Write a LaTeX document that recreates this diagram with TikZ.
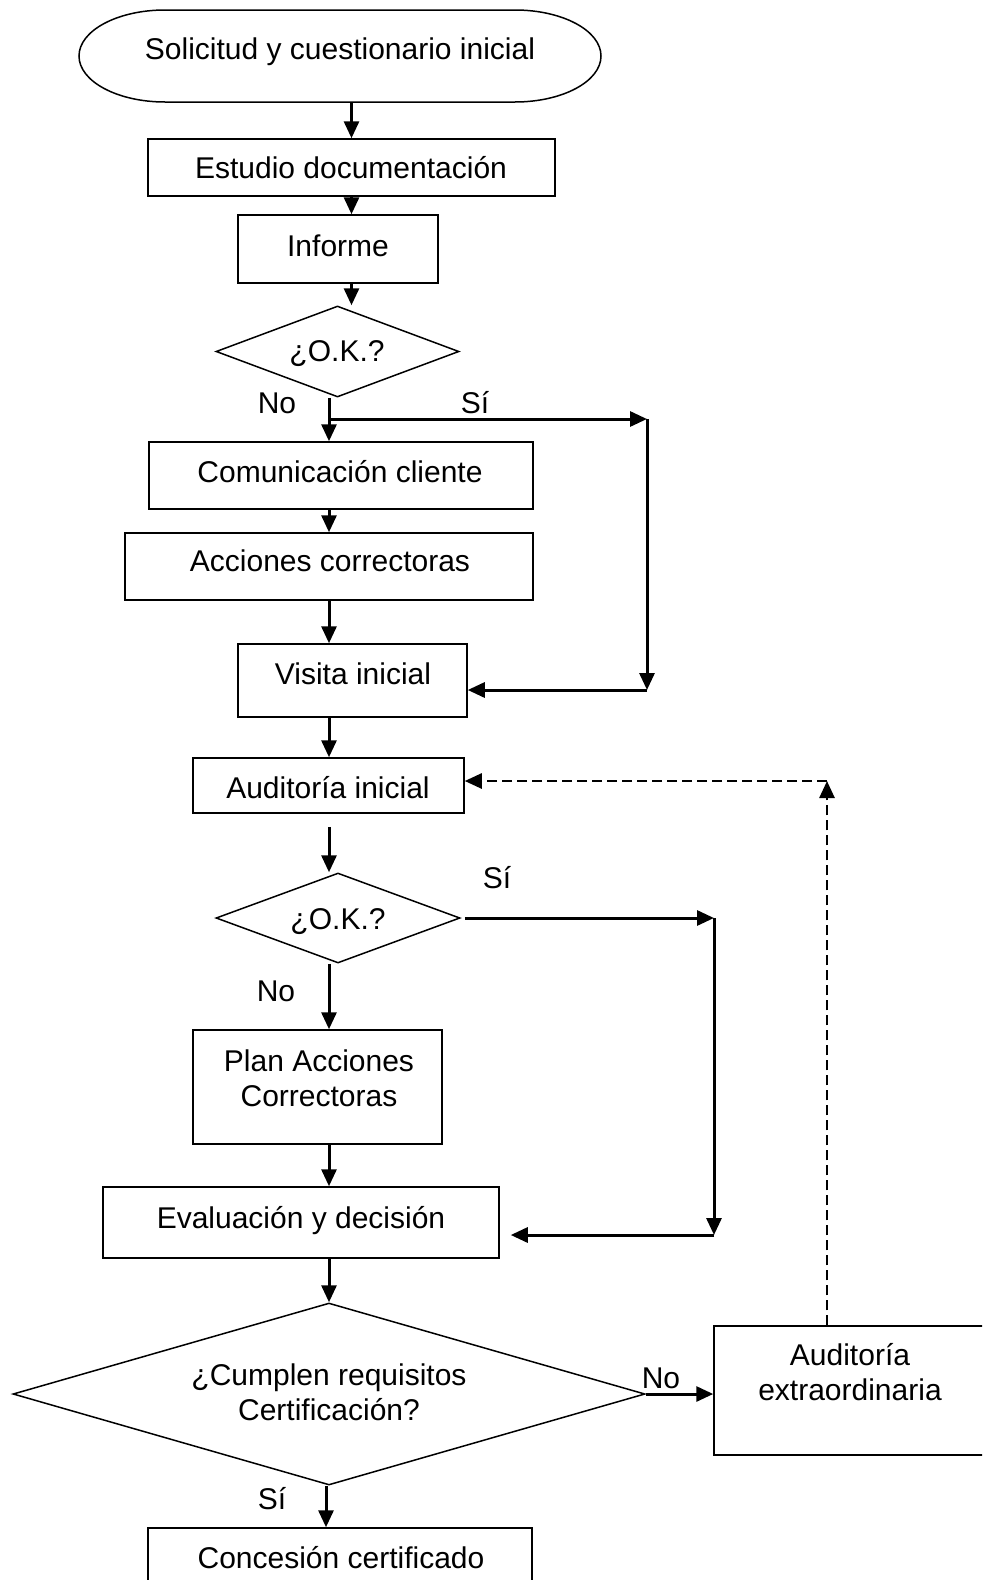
\documentclass[tikz,border=0pt]{standalone}
\usepackage{fontspec}
\setmainfont{Liberation Sans}
\usetikzlibrary{arrows.meta,shapes.geometric,fit,calc}
\begin{document}
\begin{tikzpicture}[x=0.5pt,y=-0.5pt,
  every node/.style={font=\fontsize{15pt}{17.5pt}\selectfont},
  box/.style={draw,line width=0.75pt,inner sep=0pt},
  ghost/.style={inner sep=0pt},
  dia/.style={draw,diamond,line width=0.75pt,inner sep=0pt,aspect=2.7},
  txt/.style={inner sep=0pt,align=center},
  arr/.style={line width=1.5pt,-{Triangle[length=8.5pt,width=7.5pt]}},
  darr/.style={line width=1.3pt,dash pattern=on 5pt off 2.5pt,-{Triangle[length=8.5pt,width=7.5pt]}}
]
\useasboundingbox (0,0) rectangle (982,1580);
\clip (0,0) rectangle (982,1580);
\fill[white] (0,0) rectangle (982,1580);

% terminator
\node[ghost,fit={(79,10) (601,102)}] (term) {};
\draw[line width=0.75pt] (165,10) -- (515,10)
  arc[start angle=-90,end angle=90,x radius=86,y radius=46] -- (165,102)
  arc[start angle=90,end angle=270,x radius=86,y radius=46] -- cycle;
\node[txt] (termt) at (340,52) {Solicitud y cuestionario inicial};

% boxes
\node[box,fit={(148,139) (555,196)}] (estudio) {};
\node[txt] (estudiot) at (351,168) {Estudio documentación};
\node[box,fit={(238,215) (438,283)}] (informe) {};
\node[txt] (informet) at (338,246) {Informe};
\node[dia,minimum width=121.5pt,minimum height=45.5pt] (ok1) at (337.5,351.5) {};
\node[txt] (ok1t) at (337,354) {¿O.K.?};
\node[box,fit={(149,442) (533,509)}] (com) {};
\node[txt] (comt) at (340,472) {Comunicación cliente};
\node[box,fit={(125,533) (533,600)}] (acc) {};
\node[txt] (acct) at (330,561) {Acciones correctoras};
\node[box,fit={(238,644) (467,717)}] (visita) {};
\node[txt] (visitat) at (353,674) {Visita inicial};
\node[box,fit={(193,758) (464,813)}] (audit) {};
\node[txt] (auditt) at (328,788) {Auditoría inicial};
\node[dia,minimum width=122pt,minimum height=45pt] (ok2) at (338,918) {};
\node[txt] (ok2t) at (338,922) {¿O.K.?};
\node[box,fit={(193,1030) (442,1144)}] (plan) {};
\node[txt] (plant) at (319,1078) {Plan Acciones\\Correctoras};
\node[box,fit={(103,1187) (499,1258)}] (eval) {};
\node[txt] (evalt) at (301,1221) {Evaluación y decisión};
\node[dia,minimum width=316pt,minimum height=91pt] (cumple) at (329,1394) {};
\node[txt] (cumplet) at (329,1392) {¿Cumplen requisitos\\Certificación?};
\node[box,fit={(714,1326) (986,1455)}] (extra) {};
\node[txt] (extrat) at (850,1372) {Auditoría\\extraordinaria};
\node[box,fit={(148,1528) (532,1600)}] (conc) {};
\node[txt] (conct) at (341,1558) {Concesión certificado};

% labels
\node[txt] at (277,403) {No};
\node[txt] at (475,403) {Sí};
\node[txt] at (497,878) {Sí};
\node[txt] at (276,991) {No};
\node[txt] at (661,1378) {No};
\node[txt] at (272,1499) {Sí};

% helper coordinates
\coordinate (spine) at (329,0);
\coordinate (j1) at (329,419);
\coordinate (c1) at (647,419);
\coordinate (c2) at (647,690);
\coordinate (c3) at (714,918);
\coordinate (c4) at (714,1235);
\coordinate (c5) at (827,781);

% connectors
\draw[arr] (term.south -| estudio.north) -- (estudio.north);
\draw[arr] (estudio.south) -- (estudio.south |- informe.north);
\draw[arr] (informe.south -| estudio.south) -- (estudio.south |- ok1.north);
\draw[arr] (ok1.south -| spine) -- (com.north -| spine);
\draw[arr] (j1) -- (c1);
\draw[arr] (c1) -- (c2);
\draw[arr] (c2) -- (c2 -| visita.east);
\draw[arr] (com.south -| spine) -- (acc.north -| spine);
\draw[arr] (acc.south -| spine) -- (visita.north -| spine);
\draw[arr] (visita.south -| spine) -- (audit.north -| spine);
\draw[arr,shorten <=6.5pt] (audit.south -| spine) -- (ok2.north -| spine);
\draw[arr,shorten <=2pt] (ok2.east) -- (c3);
\draw[arr] (c3) -- (c4);
\draw[arr,shorten >=5.5pt] (c4) -- (c4 -| eval.east);
\draw[arr] (ok2.south -| spine) -- (plan.north -| spine);
\draw[arr] (plan.south -| spine) -- (eval.north -| spine);
\draw[arr] (eval.south -| spine) -- (cumple.north);
\draw[arr] (cumple.east) -- (cumple.east -| extra.west);
\draw[arr] ($(cumple.south)+(-3,0)$) -- ($(cumple.south |- conc.north)+(-3,0)$);
\draw[darr] (extra.north -| c5) -- (c5);
\draw[darr] (c5) -- (c5 -| audit.east);
\end{tikzpicture}
\end{document}
